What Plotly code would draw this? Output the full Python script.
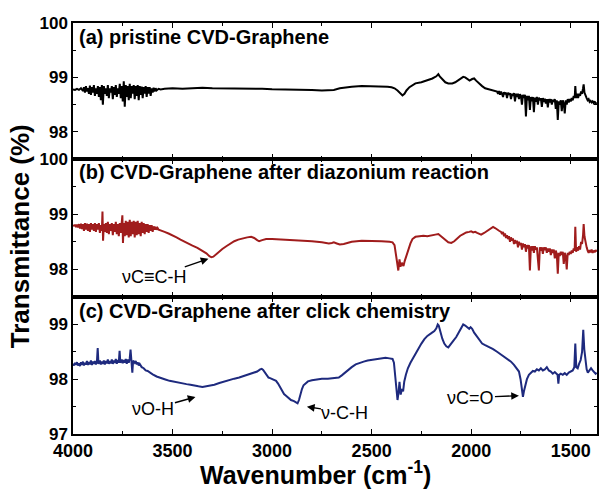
import plotly.graph_objects as go
from plotly.subplots import make_subplots

# ---------------- data ----------------
a_pts = [
    (4000, 98.78), (3990, 98.77), (3980, 98.79), (3970, 98.77), (3960, 98.80), (3950, 98.75), (3945, 98.82),
    (3940, 98.72), (3935, 98.84), (3930, 98.74), (3925, 98.80), (3920, 98.70), (3915, 98.85), (3910, 98.68),
    (3905, 98.82), (3900, 98.72), (3895, 98.86), (3890, 98.66), (3885, 98.80), (3880, 98.70), (3875, 98.84),
    (3870, 98.64), (3865, 98.82), (3860, 98.58), (3855, 98.86), (3850, 98.50), (3845, 98.84), (3840, 98.70),
    (3835, 98.80), (3830, 98.66), (3825, 98.86), (3820, 98.62), (3815, 98.80), (3810, 98.72), (3805, 98.84),
    (3800, 98.60), (3795, 98.82), (3790, 98.68), (3785, 98.86), (3780, 98.64), (3775, 98.80), (3770, 98.70),
    (3765, 98.88), (3760, 98.62), (3755, 98.84), (3750, 98.56), (3745, 98.93), (3740, 98.46), (3735, 98.86),
    (3730, 98.64), (3725, 98.84), (3720, 98.58), (3715, 98.88), (3710, 98.62), (3705, 98.84), (3700, 98.70),
    (3695, 98.86), (3690, 98.60), (3685, 98.84), (3680, 98.66), (3675, 98.86), (3670, 98.58), (3665, 98.84),
    (3660, 98.68), (3655, 98.83), (3650, 98.62), (3645, 98.82), (3640, 98.70), (3635, 98.84), (3630, 98.64),
    (3625, 98.82), (3620, 98.70), (3615, 98.82), (3610, 98.66), (3605, 98.80), (3600, 98.72), (3595, 98.81),
    (3590, 98.74), (3585, 98.80), (3580, 98.76), (3570, 98.79), (3560, 98.78), (3540, 98.79), (3500, 98.80),
    (3450, 98.79), (3400, 98.80), (3350, 98.81), (3300, 98.80), (3250, 98.80), (3200, 98.79), (3150, 98.80),
    (3100, 98.79), (3050, 98.79), (3000, 98.78), (2950, 98.78), (2900, 98.77), (2850, 98.77), (2800, 98.77),
    (2750, 98.76), (2720, 98.76), (2690, 98.77), (2660, 98.80), (2630, 98.82), (2600, 98.83), (2550, 98.84),
    (2500, 98.84), (2450, 98.83), (2420, 98.83), (2400, 98.82), (2385, 98.80), (2370, 98.76), (2360, 98.72),
    (2350, 98.69), (2345, 98.67), (2335, 98.70), (2325, 98.76), (2310, 98.82), (2295, 98.86), (2280, 98.89),
    (2250, 98.91), (2215, 98.95), (2195, 98.98), (2175, 99.02), (2165, 99.06), (2158, 99.02), (2145, 98.96),
    (2130, 98.91), (2115, 98.89), (2095, 98.89), (2080, 98.91), (2065, 98.95), (2050, 98.99), (2040, 99.01),
    (2030, 99.00), (2018, 98.96), (2008, 98.94), (1995, 98.97), (1985, 98.98), (1975, 98.94), (1960, 98.88),
    (1945, 98.84), (1930, 98.80), (1910, 98.78), (1890, 98.76), (1875, 98.75), (1870, 98.74), (1865, 98.70),
    (1860, 98.75), (1855, 98.68), (1850, 98.74), (1845, 98.70), (1840, 98.64), (1835, 98.73), (1830, 98.69),
    (1825, 98.72), (1820, 98.62), (1815, 98.72), (1810, 98.68), (1805, 98.71), (1800, 98.60), (1795, 98.70),
    (1790, 98.66), (1785, 98.71), (1780, 98.56), (1775, 98.70), (1770, 98.64), (1765, 98.70), (1760, 98.60),
    (1755, 98.69), (1750, 98.66), (1745, 98.50), (1740, 98.68), (1735, 98.62), (1730, 98.68), (1725, 98.28),
    (1720, 98.66), (1715, 98.58), (1710, 98.66), (1705, 98.40), (1700, 98.64), (1695, 98.56), (1690, 98.64),
    (1685, 98.36), (1680, 98.63), (1675, 98.55), (1670, 98.64), (1665, 98.50), (1660, 98.63), (1655, 98.58),
    (1650, 98.62), (1645, 98.46), (1640, 98.62), (1635, 98.55), (1630, 98.61), (1625, 98.52), (1620, 98.60),
    (1615, 98.45), (1610, 98.60), (1605, 98.54), (1600, 98.60), (1595, 98.50), (1590, 98.59), (1585, 98.55),
    (1580, 98.60), (1575, 98.42), (1570, 98.58), (1565, 98.22), (1560, 98.56), (1555, 98.50), (1550, 98.58),
    (1545, 98.38), (1540, 98.58), (1535, 98.52), (1530, 98.34), (1525, 98.58), (1520, 98.50), (1515, 98.60),
    (1510, 98.54), (1505, 98.60), (1500, 98.56), (1495, 98.62), (1490, 98.58), (1485, 98.66), (1480, 98.62),
    (1477, 98.84), (1473, 98.62), (1468, 98.70), (1463, 98.62), (1458, 98.70), (1453, 98.66), (1448, 98.74),
    (1443, 98.70), (1438, 98.80), (1435, 98.87), (1431, 98.72), (1426, 98.66), (1420, 98.62), (1415, 98.58),
    (1410, 98.60), (1405, 98.55), (1400, 98.57), (1395, 98.54), (1390, 98.56), (1385, 98.53), (1380, 98.56),
    (1375, 98.52), (1370, 98.54),
]
b_pts = [
    (4000, 98.79), (3990, 98.80), (3985, 98.77), (3980, 98.81), (3975, 98.76), (3970, 98.82), (3965, 98.74),
    (3960, 98.83), (3955, 98.73), (3950, 98.82), (3945, 98.70), (3940, 98.84), (3935, 98.72), (3930, 98.83),
    (3925, 98.70), (3920, 98.82), (3915, 98.68), (3910, 98.84), (3905, 98.72), (3900, 98.82), (3895, 98.70),
    (3890, 98.84), (3885, 98.68), (3880, 98.82), (3875, 98.72), (3870, 98.84), (3865, 98.66), (3860, 98.80),
    (3855, 98.70), (3852, 99.05), (3849, 98.52), (3845, 98.82), (3840, 98.68), (3835, 98.84), (3830, 98.66),
    (3825, 98.86), (3820, 98.64), (3815, 98.82), (3810, 98.70), (3805, 98.84), (3800, 98.62), (3795, 98.82),
    (3790, 98.68), (3785, 98.86), (3780, 98.64), (3775, 98.82), (3770, 98.60), (3765, 98.84), (3760, 98.66),
    (3755, 98.86), (3752, 98.98), (3749, 98.48), (3745, 98.84), (3740, 98.60), (3735, 98.88), (3730, 98.62),
    (3725, 98.86), (3720, 98.58), (3715, 98.90), (3710, 98.60), (3705, 98.86), (3700, 98.64), (3695, 98.88),
    (3690, 98.58), (3685, 98.86), (3680, 98.62), (3675, 98.88), (3670, 98.64), (3665, 98.84), (3660, 98.60),
    (3655, 98.86), (3650, 98.66), (3645, 98.84), (3640, 98.64), (3635, 98.82), (3630, 98.68), (3625, 98.82),
    (3620, 98.66), (3615, 98.80), (3610, 98.70), (3605, 98.80), (3600, 98.68), (3595, 98.78), (3590, 98.72),
    (3585, 98.77), (3580, 98.72), (3575, 98.75), (3570, 98.72), (3560, 98.71), (3540, 98.68), (3520, 98.65),
    (3500, 98.62), (3480, 98.58), (3460, 98.54), (3430, 98.48), (3400, 98.43), (3375, 98.39), (3350, 98.34),
    (3330, 98.29), (3315, 98.24), (3305, 98.22), (3295, 98.23), (3280, 98.28), (3265, 98.33), (3250, 98.37),
    (3230, 98.42), (3210, 98.47), (3190, 98.51), (3170, 98.54), (3150, 98.56), (3125, 98.58), (3105, 98.59),
    (3090, 98.57), (3075, 98.53), (3065, 98.51), (3050, 98.53), (3030, 98.55), (3000, 98.55), (2950, 98.54),
    (2900, 98.53), (2850, 98.53), (2800, 98.51), (2750, 98.49), (2715, 98.47), (2700, 98.48), (2690, 98.49),
    (2675, 98.47), (2660, 98.45), (2640, 98.46), (2620, 98.48), (2600, 98.50), (2550, 98.52), (2500, 98.52),
    (2450, 98.51), (2410, 98.50), (2395, 98.49), (2385, 98.44), (2378, 98.25), (2372, 98.05), (2366, 97.98),
    (2360, 98.18), (2355, 98.05), (2348, 98.12), (2340, 98.06), (2334, 98.15), (2325, 98.26), (2315, 98.37),
    (2305, 98.47), (2295, 98.55), (2280, 98.59), (2260, 98.60), (2240, 98.61), (2220, 98.60), (2200, 98.62),
    (2180, 98.63), (2165, 98.64), (2155, 98.61), (2145, 98.57), (2130, 98.52), (2115, 98.49), (2100, 98.48),
    (2085, 98.51), (2070, 98.56), (2055, 98.61), (2040, 98.64), (2025, 98.67), (2010, 98.68), (2000, 98.69),
    (1990, 98.67), (1980, 98.68), (1970, 98.66), (1960, 98.65), (1950, 98.63), (1935, 98.66), (1920, 98.70),
    (1905, 98.74), (1890, 98.77), (1880, 98.75), (1870, 98.72), (1860, 98.70), (1850, 98.68), (1845, 98.64),
    (1840, 98.68), (1835, 98.60), (1830, 98.65), (1825, 98.57), (1820, 98.62), (1815, 98.55), (1810, 98.60),
    (1805, 98.50), (1800, 98.58), (1795, 98.52), (1790, 98.56), (1785, 98.46), (1780, 98.53), (1775, 98.47),
    (1770, 98.52), (1765, 98.40), (1760, 98.50), (1755, 98.44), (1750, 98.48), (1745, 98.36), (1740, 98.47),
    (1735, 98.40), (1730, 98.46), (1725, 98.32), (1720, 98.44), (1715, 98.38), (1710, 98.44), (1705, 97.98),
    (1700, 98.42), (1695, 98.34), (1690, 98.42), (1685, 98.30), (1680, 98.42), (1675, 98.36), (1670, 98.40),
    (1665, 98.20), (1660, 97.98), (1655, 98.40), (1650, 98.34), (1645, 98.40), (1640, 98.28), (1635, 98.40),
    (1630, 98.35), (1625, 98.40), (1620, 98.30), (1615, 98.38), (1610, 98.32), (1605, 98.38), (1600, 98.26),
    (1595, 98.36), (1590, 98.30), (1585, 98.36), (1580, 98.20), (1575, 98.34), (1570, 98.28), (1565, 97.92),
    (1560, 98.30), (1555, 98.24), (1550, 98.32), (1545, 98.26), (1540, 98.32), (1535, 98.10), (1530, 98.30),
    (1525, 98.24), (1520, 98.00), (1515, 98.30), (1510, 98.26), (1505, 98.32), (1500, 98.28), (1495, 98.34),
    (1490, 98.30), (1485, 98.38), (1480, 98.34), (1477, 98.77), (1473, 98.32), (1468, 98.40), (1463, 98.34),
    (1458, 98.42), (1453, 98.36), (1448, 98.50), (1443, 98.46), (1438, 98.62), (1435, 98.82), (1431, 98.60),
    (1426, 98.48), (1420, 98.40), (1415, 98.34), (1410, 98.30), (1405, 98.35), (1400, 98.31), (1395, 98.36),
    (1390, 98.30), (1385, 98.34), (1380, 98.31), (1375, 98.35), (1370, 98.32),
]
c_pts = [
    (4000, 98.28), (3995, 98.25), (3990, 98.30), (3985, 98.26), (3980, 98.31), (3975, 98.25), (3970, 98.29),
    (3965, 98.24), (3960, 98.31), (3955, 98.26), (3950, 98.32), (3945, 98.25), (3940, 98.30), (3935, 98.27),
    (3930, 98.33), (3925, 98.26), (3920, 98.31), (3915, 98.27), (3910, 98.34), (3905, 98.26), (3900, 98.32),
    (3895, 98.28), (3890, 98.33), (3885, 98.27), (3880, 98.31), (3876, 98.57), (3872, 98.28), (3865, 98.34),
    (3860, 98.27), (3855, 98.32), (3850, 98.28), (3845, 98.34), (3840, 98.27), (3835, 98.33), (3830, 98.29),
    (3825, 98.36), (3820, 98.28), (3815, 98.33), (3810, 98.29), (3805, 98.36), (3800, 98.28), (3795, 98.34),
    (3790, 98.30), (3785, 98.37), (3780, 98.28), (3775, 98.35), (3770, 98.30), (3766, 98.52), (3762, 98.30),
    (3755, 98.36), (3750, 98.29), (3745, 98.35), (3740, 98.30), (3735, 98.37), (3730, 98.28), (3725, 98.36),
    (3720, 98.30), (3715, 98.38), (3711, 98.54), (3707, 98.32), (3702, 98.12), (3698, 98.34), (3690, 98.30),
    (3685, 98.33), (3680, 98.27), (3675, 98.31), (3670, 98.25), (3665, 98.28), (3655, 98.22), (3645, 98.20),
    (3635, 98.16), (3625, 98.15), (3615, 98.12), (3600, 98.09), (3580, 98.05), (3560, 98.02), (3540, 98.00),
    (3515, 97.97), (3490, 97.95), (3470, 97.94), (3450, 97.93), (3430, 97.91), (3410, 97.90), (3390, 97.88),
    (3370, 97.87), (3350, 97.86), (3330, 97.87), (3315, 97.88), (3290, 97.90), (3265, 97.93), (3240, 97.96),
    (3215, 97.99), (3190, 98.01), (3165, 98.03), (3140, 98.06), (3115, 98.08), (3095, 98.11), (3075, 98.14),
    (3060, 98.18), (3052, 98.19), (3045, 98.17), (3035, 98.12), (3025, 98.07), (3018, 98.03), (3010, 98.02),
    (3000, 98.00), (2990, 97.99), (2980, 97.97), (2970, 97.92), (2960, 97.85), (2950, 97.78), (2940, 97.73),
    (2930, 97.70), (2920, 97.66), (2905, 97.62), (2890, 97.60), (2880, 97.58), (2872, 97.56), (2865, 97.62),
    (2858, 97.72), (2850, 97.82), (2842, 97.89), (2832, 97.93), (2820, 97.96), (2800, 97.98), (2775, 98.00),
    (2750, 98.01), (2720, 98.01), (2700, 98.02), (2680, 98.02), (2665, 98.03), (2650, 98.07), (2635, 98.12),
    (2620, 98.17), (2600, 98.22), (2580, 98.27), (2560, 98.30), (2540, 98.32), (2520, 98.34), (2500, 98.35),
    (2480, 98.37), (2465, 98.38), (2445, 98.38), (2430, 98.39), (2410, 98.38), (2395, 98.37), (2388, 98.30),
    (2382, 98.10), (2376, 97.85), (2370, 97.62), (2365, 97.75), (2360, 97.95), (2354, 97.72), (2348, 97.82),
    (2342, 97.78), (2336, 97.96), (2328, 98.08), (2318, 98.20), (2305, 98.30), (2290, 98.40), (2280, 98.46),
    (2265, 98.56), (2250, 98.65), (2235, 98.73), (2220, 98.79), (2200, 98.84), (2185, 98.88), (2175, 98.93),
    (2168, 99.00), (2163, 98.98), (2155, 98.86), (2145, 98.74), (2135, 98.65), (2125, 98.60), (2115, 98.58),
    (2105, 98.62), (2090, 98.70), (2075, 98.77), (2060, 98.86), (2048, 98.95), (2040, 99.00), (2030, 98.98),
    (2020, 98.95), (2010, 98.92), (2003, 98.95), (1995, 98.92), (1985, 98.85), (1975, 98.80), (1960, 98.72),
    (1945, 98.65), (1930, 98.62), (1910, 98.59), (1890, 98.55), (1870, 98.50), (1850, 98.45), (1830, 98.40),
    (1815, 98.36), (1800, 98.32), (1785, 98.26), (1770, 98.20), (1760, 98.14), (1752, 98.00), (1745, 97.80),
    (1740, 97.68), (1735, 97.78), (1728, 97.90), (1720, 98.00), (1710, 98.08), (1700, 98.12), (1690, 98.15),
    (1680, 98.14), (1670, 98.18), (1660, 98.16), (1650, 98.20), (1640, 98.16), (1630, 98.18), (1620, 98.22),
    (1610, 98.16), (1600, 98.14), (1590, 98.10), (1580, 98.13), (1572, 98.10), (1566, 98.08), (1562, 97.92),
    (1558, 98.08), (1550, 98.10), (1540, 98.08), (1530, 98.11), (1520, 98.08), (1510, 98.12), (1500, 98.14),
    (1490, 98.16), (1482, 98.22), (1477, 98.65), (1472, 98.22), (1465, 98.20), (1458, 98.28), (1450, 98.35),
    (1443, 98.50), (1437, 98.90), (1432, 98.55), (1426, 98.30), (1420, 98.18), (1414, 98.12), (1405, 98.16),
    (1398, 98.20), (1390, 98.16), (1382, 98.12), (1375, 98.10), (1370, 98.12),
]
wn_a = [p[0] for p in a_pts]
tr_a = [p[1] for p in a_pts]
wn_b = [p[0] for p in b_pts]
tr_b = [p[1] for p in b_pts]
wn_c = [p[0] for p in c_pts]
tr_c = [p[1] for p in c_pts]

panel_labels = ["(a) pristine CVD-Graphene",
                "(b) CVD-Graphene after diazonium reaction",
                "(c) CVD-Graphene after click chemistry"]
colors = ["#000000", "#A01C1C", "#1E2A7E"]
y_ranges = [[97.5, 100], [97.5, 100], [97, 99.5]]
y_ticks = [[98, 99, 100], [98, 99, 100], [97, 98, 99]]
x_ticks = [4000, 3500, 3000, 2500, 2000, 1500]
x_range = [4000, 1368]

# peak labels: text, head (wavenumber, transmittance), panel
peak_labels = ["νC≡C-H", "νO-H", "ν-C-H", "νC=O"]
peak_wn = [3315, 3380, 2830, 1755]
peak_tr = [98.20, 97.68, 97.50, 97.70]
peak_panel = [2, 3, 3, 3]

# ---------------- figure ----------------
W, H = 602, 491
ml, mr, mt, mb = 73, 3, 23, 57
pw, ph = W - ml - mr, H - mt - mb

fig = make_subplots(rows=3, cols=1, shared_xaxes=True, vertical_spacing=0)

series = [(wn_a, tr_a), (wn_b, tr_b), (wn_c, tr_c)]
for i, (x, y) in enumerate(series):
    fig.add_trace(go.Scatter(x=x, y=y, mode="lines", line=dict(color=colors[i], width=2),
                             showlegend=False), row=i + 1, col=1)

FAM = "Arial, Liberation Sans, sans-serif"
bounds = [23, 159, 297, 434]
xtickfont = dict(family=FAM, size=18, color="black", weight="bold")
ytickfont = dict(family=FAM, size=17, color="black", weight="bold")
for i in range(3):
    top, bot = bounds[i], bounds[i + 1]
    dom = [(mt + ph - bot) / ph, (mt + ph - top) / ph]
    yname = "yaxis" if i == 0 else f"yaxis{i + 1}"
    xname = "xaxis" if i == 0 else f"xaxis{i + 1}"
    fig.layout[yname].update(domain=dom, range=y_ranges[i], tickvals=y_ticks[i],
                             ticks="inside", ticklen=5, tickwidth=1.3, tickcolor="black",
                             showline=True, linecolor="black", linewidth=1.5, mirror="ticks",
                             showgrid=False, zeroline=False, tickfont=ytickfont,
                             minor=dict(dtick=0.5, tick0=97, ticks="inside", ticklen=3,
                                        tickwidth=1.3, tickcolor="black", showgrid=False))
    fig.layout[xname].update(range=x_range, tickvals=x_ticks,
                             ticks="inside", ticklen=5, tickwidth=1.3, tickcolor="black",
                             showline=True, linecolor="black", linewidth=1.5, mirror="ticks",
                             showgrid=False, zeroline=False, tickfont=xtickfont,
                             showticklabels=(i == 2),
                             minor=dict(dtick=250, tick0=4000, ticks="inside", ticklen=3,
                                        tickwidth=1.3, tickcolor="black", showgrid=False))

def px_x(px):
    return (px - ml) / pw

def px_y(py):
    return (mt + ph - py) / ph

annotations = []
label_ys = [37, 172, 311]
for i, lab in enumerate(panel_labels):
    annotations.append(dict(text=lab, xref="paper", yref="paper", x=px_x(77), y=px_y(label_ys[i]),
                            xanchor="left", yanchor="middle", showarrow=False,
                            font=dict(family=FAM, size=20, color="black", weight="bold")))

annotations.append(dict(text="Transmittance (%)", xref="paper", yref="paper", x=px_x(20), y=px_y(236),
                        textangle=-90, xanchor="center", yanchor="middle", showarrow=False,
                        font=dict(family=FAM, size=26, color="black", weight="bold")))
annotations.append(dict(text="Wavenumber (cm<sup>-1</sup>)", xref="paper", yref="paper", x=px_x(316), y=px_y(473),
                        xanchor="center", yanchor="middle", showarrow=False,
                        font=dict(family=FAM, size=25, color="black", weight="bold")))

# text centre offset (pixels) from arrow head
offsets = [(-55, 19), (-43, 12), (39, 6), (-49, 2)]
afont = dict(family=FAM, size=18, color="black")
for t, x, y, p, (ax, ay) in zip(peak_labels, peak_wn, peak_tr, peak_panel, offsets):
    annotations.append(dict(text=t, xref=f"x{p}", yref=f"y{p}", x=x, y=y, ax=ax, ay=ay,
                            showarrow=True, arrowhead=2, arrowsize=1.1, arrowwidth=1.4,
                            arrowcolor="black", standoff=1, font=afont, borderpad=0))

fig.update_layout(width=W, height=H, margin=dict(l=ml, r=mr, t=mt, b=mb),
                  paper_bgcolor="white", plot_bgcolor="white",
                  annotations=annotations, showlegend=False)

fig.write_html("out.html")
